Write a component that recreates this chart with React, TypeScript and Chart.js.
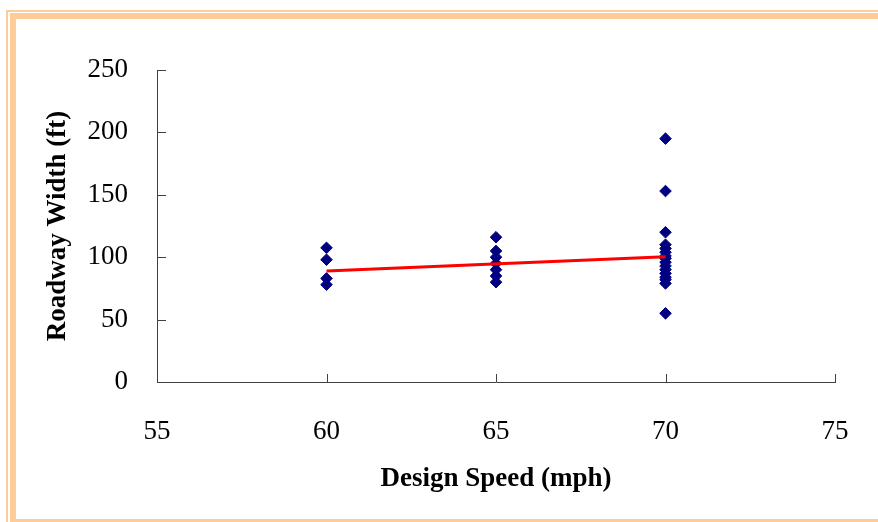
import React, { useEffect, useRef } from "react";
import { Chart, registerables } from "chart.js";

Chart.register(...registerables);

// Design speed categories (mph) and observed roadway widths (ft)
const speed60Widths = [107.5, 98, 83, 78];
const speed65Widths = [116, 105, 100, 95, 90, 85, 80];
const speed70Widths = [195, 153, 120, 110, 107, 104, 101, 99, 96, 93, 90, 87, 84, 82, 79, 55];
const speeds = [60, 65, 70];
const trendX = [60, 70];
const trendY = [89, 100.4];
const xTicks = [55, 60, 65, 70, 75];
const yTicks = [0, 50, 100, 150, 200, 250];

const FONT = "'Liberation Serif', 'Times New Roman', serif";

const inwardTicks = {
  id: "inwardTicks",
  afterDraw(chart: any) {
    const { ctx, chartArea } = chart;
    const xs = chart.scales.x;
    const ys = chart.scales.y;
    ctx.save();
    ctx.strokeStyle = "#404040";
    ctx.lineWidth = 1;
    ctx.beginPath();
    xTicks.forEach((v) => {
      const px = Math.round(xs.getPixelForValue(v)) + 0.5;
      ctx.moveTo(px, chartArea.bottom);
      ctx.lineTo(px, chartArea.bottom - 8);
    });
    yTicks.forEach((v) => {
      const py = Math.round(ys.getPixelForValue(v)) + 0.5;
      ctx.moveTo(chartArea.left, py);
      ctx.lineTo(chartArea.left + 9, py);
    });
    ctx.stroke();
    ctx.restore();
  },
};

export default function App() {
  const ref = useRef<HTMLCanvasElement>(null);

  useEffect(() => {
    const points: { x: number; y: number }[] = [];
    [speed60Widths, speed65Widths, speed70Widths].forEach((arr, i) => {
      arr.forEach((w) => points.push({ x: speeds[i], y: w }));
    });
    const trend = trendX.map((x, i) => ({ x, y: trendY[i] }));

    const chart = new Chart(ref.current as HTMLCanvasElement, {
      type: "scatter",
      data: {
        datasets: [
          {
            type: "line",
            data: trend,
            borderColor: "#FF0000",
            borderWidth: 3,
            pointRadius: 0,
            fill: false,
            order: 0,
          } as any,
          {
            data: points,
            pointStyle: "rectRot",
            pointRadius: 5.8,
            backgroundColor: "#000080",
            borderColor: "#000080",
            borderWidth: 1,
            order: 1,
          },
        ],
      },
      options: {
        responsive: false,
        animation: false,
        layout: { autoPadding: false, padding: { left: 42, top: 70, right: 43, bottom: 27 } },
        plugins: { legend: { display: false }, tooltip: { enabled: false } },
        scales: {
          x: {
            type: "linear",
            min: 55,
            max: 75,
            afterFit: (s: any) => {
              s.height = 113;
              s.paddingLeft = 0;
              s.paddingRight = 0;
            },
            afterBuildTicks: (s: any) => {
              s.ticks = xTicks.map((v) => ({ value: v }));
            },
            grid: { display: false, drawTicks: false },
            border: { display: true, color: "#404040", width: 1 },
            ticks: {
              color: "#000",
              padding: 34,
              font: { family: FONT, size: 27 },
            },
            title: {
              display: true,
              text: "Design Speed (mph)",
              color: "#000",
              padding: { top: 0, bottom: 0 },
              font: { family: FONT, size: 27, weight: "bold" },
            },
          },
          y: {
            type: "linear",
            min: 0,
            max: 250,
            afterFit: (s: any) => {
              s.width = 115;
              s.paddingTop = 0;
              s.paddingBottom = 0;
            },
            afterBuildTicks: (s: any) => {
              s.ticks = yTicks.map((v) => ({ value: v }));
            },
            grid: { display: false, drawTicks: false },
            border: { display: true, color: "#404040", width: 1 },
            ticks: {
              color: "#000",
              padding: 29,
              font: { family: FONT, size: 27 },
            },
            title: {
              display: true,
              text: "Roadway Width (ft)",
              color: "#000",
              padding: { top: 0, bottom: 0 },
              font: { family: FONT, size: 27, weight: "bold" },
            },
          },
        },
      },
      plugins: [inwardTicks],
    });
    return () => chart.destroy();
  }, []);

  const peach = "#FFCC99";
  return (
    <div
      style={{
        position: "fixed",
        left: 0,
        top: 0,
        width: 878,
        height: 522,
        background: "#fff",
        overflow: "hidden",
      }}
    >
      <div style={{ position: "absolute", left: 6, top: 10, right: 0, height: 2, background: peach }} />
      <div style={{ position: "absolute", left: 10, top: 13, right: 0, height: 6, background: peach }} />
      <div style={{ position: "absolute", left: 6, top: 10, width: 2, bottom: 0, background: peach }} />
      <div style={{ position: "absolute", left: 10, top: 13, width: 6, bottom: 0, background: peach }} />
      <div style={{ position: "absolute", left: 10, top: 519, right: 0, height: 3, background: peach }} />
      <canvas
        ref={ref}
        width={878}
        height={522}
        style={{ position: "absolute", left: 0, top: 0 }}
      />
    </div>
  );
}
